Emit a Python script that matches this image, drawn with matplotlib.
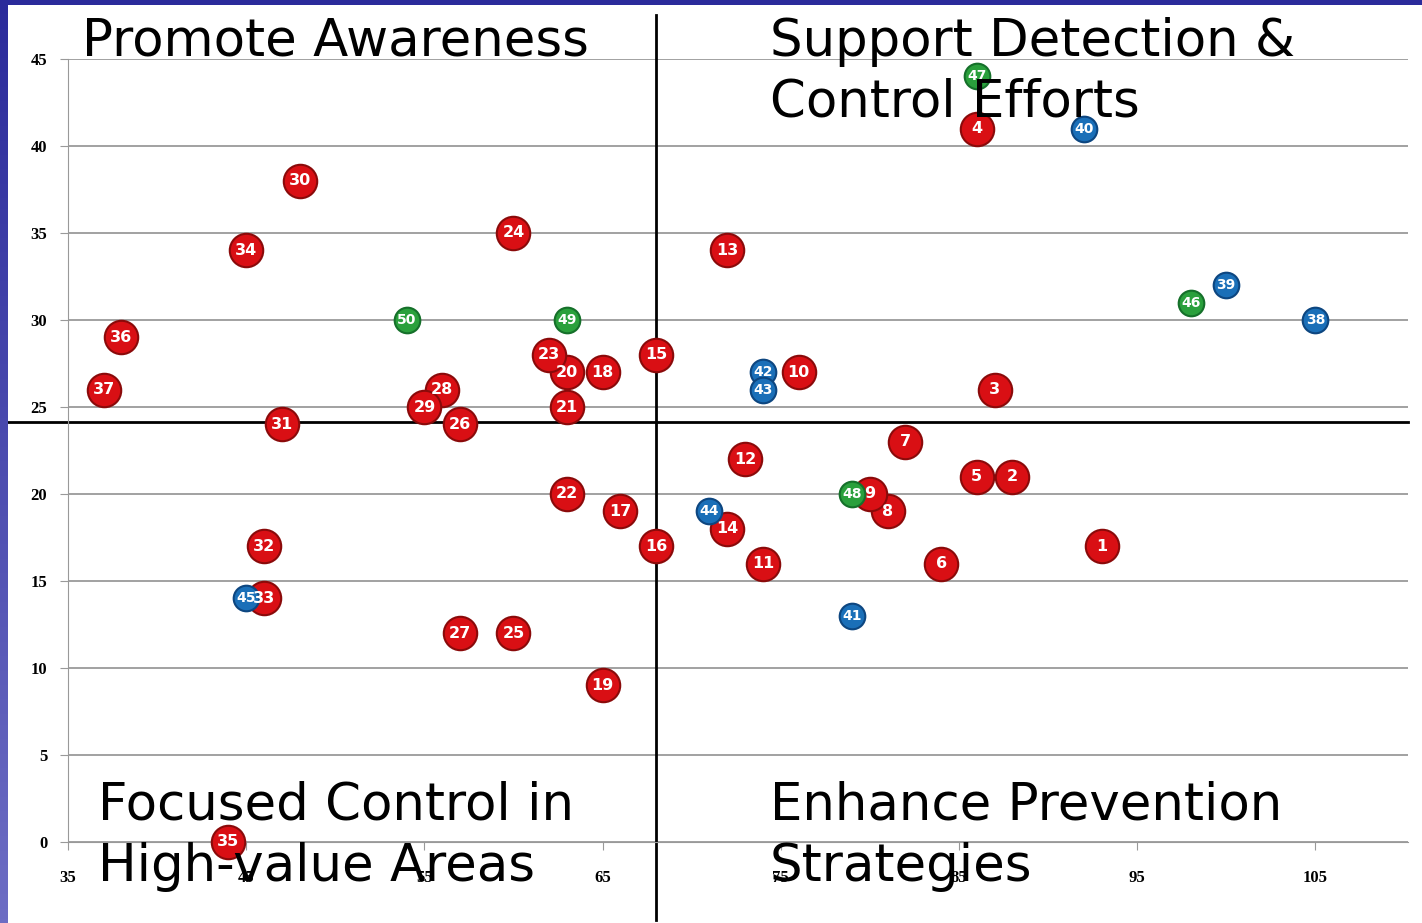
import numpy as np
import matplotlib
matplotlib.use("Agg")
import matplotlib.pyplot as plt

# point numbers, positions and group (r = red, b = blue, g = green)
ids = [1, 2, 3, 4, 5, 6, 7, 8, 9, 10, 11, 12, 13, 14, 15, 16, 17, 18, 19, 20,
       21, 22, 23, 24, 25, 26, 27, 28, 29, 30, 31, 32, 33, 34, 35, 36, 37,
       38, 39, 40, 41, 42, 43, 44, 45, 46, 47, 48, 49, 50]
xs = [93, 88, 87, 86, 86, 84, 82, 81, 80, 76, 74, 73, 72, 72, 68, 68, 66, 65, 65, 63,
      63, 63, 62, 60, 60, 57, 57, 56, 55, 48, 47, 46, 46, 45, 44, 38, 37,
      105, 100, 92, 79, 74, 74, 71, 45, 98, 86, 79, 63, 54]
ys = [17, 21, 26, 41, 21, 16, 23, 19, 20, 27, 16, 22, 34, 18, 28, 17, 19, 27, 9, 27,
      25, 20, 28, 35, 12, 24, 12, 26, 25, 38, 24, 17, 14, 34, 0, 29, 26,
      30, 32, 41, 13, 27, 26, 19, 14, 31, 44, 20, 30, 30]
groups = ["r"] * 37 + ["b"] * 8 + ["g"] * 5

x_mid = 68
y_mid = 24.15

fill = {"r": "#d90f14", "b": "#1a6fb8", "g": "#2aa03c"}
edge = {"r": "#8a0a0a", "b": "#0d4680", "g": "#15702a"}
size = {"r": 580, "b": 340, "g": 340}
fsize = {"r": 11.5, "b": 10, "g": 10}

fig = plt.figure(figsize=(14.22, 9.23), dpi=100)
fig.patch.set_facecolor("white")

ax = fig.add_axes([68 / 1422, 81 / 923, (1408 - 68) / 1422, (842 - 59) / 923])
ax.set_xlim(35, 110.2)
ax.set_ylim(0, 45)
ax.set_xticks([35, 45, 55, 65, 75, 85, 95, 105])
ax.set_yticks(range(0, 46, 5))
for s in ["top", "right"]:
    ax.spines[s].set_visible(False)
for s in ["left", "bottom"]:
    ax.spines[s].set_color("#999999")
ax.tick_params(colors="#999999", length=6, labelcolor="black")
ax.tick_params(axis="x", pad=14)
ax.tick_params(axis="y", pad=9)
for lab in ax.get_xticklabels() + ax.get_yticklabels():
    lab.set_family(["Liberation Serif", "DejaVu Serif"])
    lab.set_fontsize(12)
    lab.set_fontweight("bold")
ax.yaxis.grid(True, color="#9a9a9a", lw=1.3)
ax.set_axisbelow(True)

# quadrant lines, reaching past the plot area
ax.plot([31.6, 110.2], [y_mid, y_mid], color="black", lw=2, clip_on=False, zorder=1)
ax.plot([x_mid, x_mid], [-4.5, 47.5], color="black", lw=2, clip_on=False, zorder=1)

for g in ["r", "b", "g"]:
    sel = [i for i, gg in enumerate(groups) if gg == g]
    px = [xs[i] for i in sel]
    py = [ys[i] for i in sel]
    ax.scatter(px, py, s=size[g], c=fill[g], edgecolors=edge[g], linewidths=1.5,
               zorder=3, clip_on=False)
for i, n in enumerate(ids):
    ax.text(xs[i], ys[i], str(n), color="white", fontsize=fsize[groups[i]],
            fontweight="bold", ha="center", va="center", zorder=4)

# quadrant titles
tfont = dict(fontsize=37, color="black", va="top", ha="left", linespacing=1.28,
             family="DejaVu Sans")
fig.text(82 / 1422, 1 - 17 / 923, "Promote Awareness", **tfont)
fig.text(770 / 1422, 1 - 17 / 923, "Support Detection &\nControl Efforts", **tfont)
fig.text(98 / 1422, 1 - 781 / 923, "Focused Control in\nHigh-value Areas", **tfont)
fig.text(770 / 1422, 1 - 781 / 923, "Enhance Prevention\nStrategies", **tfont)

# slide frame strips
side = fig.add_axes([0, 0, 8 / 1422, 1])
grad = np.linspace(0, 1, 256).reshape(-1, 1)
side.imshow(grad, aspect="auto", cmap=matplotlib.colors.LinearSegmentedColormap.from_list(
    "frame", ["#2b2b9b", "#6d6dc4"]))
side.axis("off")
top = fig.add_axes([0, 1 - 5 / 923, 1, 5 / 923])
top.set_facecolor("#2b2b9b")
top.set_xticks([])
top.set_yticks([])
for s in top.spines.values():
    s.set_visible(False)

fig.savefig("out.png", dpi=100)
